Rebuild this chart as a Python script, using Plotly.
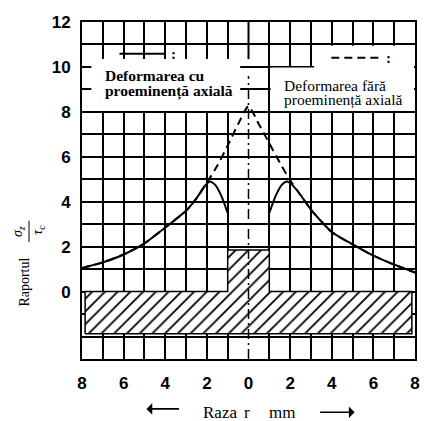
import plotly.graph_objects as go

# ---- data ----
x_tick_vals = [-8, -6, -4, -2, 0, 2, 4, 6, 8]
x_tick_text = ["8", "6", "4", "2", "0", "2", "4", "6", "8"]
y_tick_vals = [0, 2, 4, 6, 8, 10, 12]
y_tick_text = ["0", "2", "4", "6", "8", "10", "12"]

# deformation with axial protuberance (solid)
solid_x = [-8, -7, -6, -5, -4, -3, -2.5, -2.1, -1.85, -1.6, -1.3, -1.0,
           None,
           1.0, 1.3, 1.6, 1.85, 2.1, 2.5, 3, 4, 5, 6, 7, 8]
solid_y = [1.05, 1.3, 1.65, 2.15, 2.85, 3.6, 4.15, 4.7, 4.9, 4.75, 4.25, 3.5,
           None,
           3.5, 4.25, 4.75, 4.9, 4.75, 4.3, 3.65, 2.65, 2.1, 1.6, 1.2, 0.85]

# deformation without axial protuberance (dashed)
dashed_x = [-8, -7, -6, -5, -4, -3, -2.5, -2.0, -1.5, -1.0, -0.5, 0,
            0.5, 1.0, 1.5, 2.0, 2.5, 3, 4, 5, 6, 7, 8]
dashed_y = [1.05, 1.3, 1.65, 2.15, 2.85, 3.6, 4.15, 4.85, 5.6, 6.5, 7.45, 8.25,
            7.45, 6.6, 5.75, 4.95, 4.3, 3.65, 2.65, 2.1, 1.6, 1.2, 0.85]

# specimen profile (hatched)
profile_x = [-7.85, 7.85, 7.85, 1.0, 1.0, -1.0, -1.0, -7.85, -7.85]
profile_y = [-1.88, -1.88, 0, 0, 1.85, 1.85, 0, 0, -1.88]

grid_x = [v for v in range(-8, 9) if v != 0]

fig = go.Figure()

fig.add_trace(go.Scatter(
    x=profile_x, y=profile_y, mode="lines", fill="toself",
    line=dict(color="black", width=1.5),
    fillpattern=dict(shape="/", fgcolor="black", bgcolor="white",
                     size=9, solidity=0.2, fillmode="replace"),
    hoverinfo="skip", showlegend=False))

fig.add_trace(go.Scatter(
    x=solid_x, y=solid_y, mode="lines", connectgaps=False,
    line=dict(color="black", width=2, shape="spline", smoothing=0.6),
    showlegend=False))

fig.add_trace(go.Scatter(
    x=dashed_x, y=dashed_y, mode="lines",
    line=dict(color="black", width=2, dash="8px,5px", shape="spline", smoothing=0.6),
    showlegend=False))

shapes = [
    # white label boxes covering the grid
    dict(type="rect", xref="x", yref="y", x0=-7.55, x1=-0.4, y0=8.04, y1=10.35,
         fillcolor="white", line=dict(width=0), layer="above"),
    dict(type="rect", xref="x", yref="y", x0=1.06, x1=7.95, y0=8.04, y1=9.97,
         fillcolor="white", line=dict(width=0), layer="above"),
    dict(type="rect", xref="x", yref="y", x0=3.15, x1=7.95, y0=9.9, y1=10.94,
         fillcolor="white", line=dict(width=0), layer="above"),
    # centre line (dash-dot)
    dict(type="line", xref="x", yref="y", x0=0, x1=0, y0=-3, y1=9.6,
         line=dict(color="black", width=1.5, dash="10px,4px,2px,4px"), layer="above"),
    dict(type="line", xref="x", yref="y", x0=0, x1=0, y0=10.35, y1=12,
         line=dict(color="black", width=2), layer="above"),
    # legend samples
    dict(type="line", xref="x", yref="y", x0=-6.2, x1=-3.98, y0=10.59, y1=10.59,
         line=dict(color="black", width=2), layer="above"),
    dict(type="line", xref="x", yref="y", x0=3.98, x1=6.44, y0=10.41, y1=10.41,
         line=dict(color="black", width=2, dash="8px,5px"), layer="above"),
    # fraction bar of the y title
    dict(type="line", xref="paper", yref="y", xsizemode="pixel", xanchor=0,
         x0=-53, x1=-53, y0=2.2, y1=3.15, line=dict(color="black", width=1)),
]

serif = "Liberation Serif, Times New Roman, serif"
ann = [
    dict(text="<b>:</b>", x=-3.6, y=10.58, font=dict(size=15, family=serif)),
    dict(text="<b>:</b>", x=6.72, y=10.4, font=dict(size=15, family=serif)),
    dict(text="<b>Deformarea cu</b>", x=-7.0, y=9.61, xanchor="left",
         font=dict(size=15.5, family=serif)),
    dict(text="<b>proeminență axială</b>", x=-7.0, y=8.95, xanchor="left",
         font=dict(size=15.5, family=serif)),
    dict(text="Deformarea fără", x=1.61, y=9.17, xanchor="left",
         font=dict(size=15.5, family=serif)),
    dict(text="proeminență axială", x=1.61, y=8.54, xanchor="left",
         font=dict(size=15.5, family=serif)),
]
annotations = []
for a in ann:
    d = dict(xref="x", yref="y", showarrow=False, yanchor="middle",
             xanchor=a.pop("xanchor", "center"))
    d.update(a)
    d["font"]["color"] = "black"
    annotations.append(d)

# bottom title "Raza r mm" with arrows (paper y below plot)
yb = -0.158
for txt, xv in [("Raza", -1.37), ("r", -0.05), ("mm", 1.6)]:
    annotations.append(dict(xref="x", yref="paper", x=xv, y=yb, text=txt,
                            showarrow=False, xanchor="center", yanchor="middle",
                            font=dict(size=17, family=serif, color="black")))
annotations += [
    dict(xref="x", yref="paper", x=-4.9, y=yb + 0.01, ax=34, ay=0, text="",
         showarrow=True, arrowhead=1, arrowsize=1.2, arrowwidth=1.6, arrowcolor="black"),
    dict(xref="x", yref="paper", x=5.1, y=yb, ax=-36, ay=0, text="",
         showarrow=True, arrowhead=1, arrowsize=1.2, arrowwidth=1.6, arrowcolor="black"),
]

# y axis title: Raportul sigma_z / tau_c (rotated)
annotations += [
    dict(xref="paper", yref="y", x=0, xshift=-57, y=0.4, text="Raportul",
         xanchor="center", yanchor="middle",
         textangle=-90, showarrow=False, font=dict(size=14, family=serif, color="black")),
    dict(xref="paper", yref="y", x=0, xshift=-64, y=2.65, text="<i>σ<sub>z</sub></i>",
         xanchor="center", yanchor="middle",
         textangle=-90, showarrow=False, font=dict(size=14, family=serif, color="black")),
    dict(xref="paper", yref="y", x=0, xshift=-43, y=2.75, text="<i>τ<sub>c</sub></i>",
         xanchor="center", yanchor="middle",
         textangle=-90, showarrow=False, font=dict(size=14, family=serif, color="black")),
]

tickfont = dict(family="Liberation Sans, Arial, sans-serif", size=17, color="black", weight="bold")

fig.update_layout(
    width=424, height=421,
    margin=dict(l=82, r=4, t=22, b=62),
    paper_bgcolor="white", plot_bgcolor="white",
    shapes=shapes, annotations=annotations,
    xaxis=dict(range=[-8, 8], tickmode="array", tickvals=x_tick_vals, ticktext=x_tick_text,
               showgrid=False, zeroline=False, showline=True, mirror=True,
               linecolor="black", linewidth=2, ticks="", tickfont=tickfont,
               ticklabelstandoff=8,
               minor=dict(tickmode="array", tickvals=grid_x, showgrid=True,
                          gridcolor="black", gridwidth=2, ticks="")),
    yaxis=dict(range=[-3, 12], tickmode="array", tickvals=y_tick_vals, ticktext=y_tick_text,
               showgrid=True, gridcolor="black", gridwidth=2, zeroline=False,
               showline=True, mirror=True, linecolor="black", linewidth=2,
               ticks="", tickfont=tickfont, ticklabelstandoff=6,
               minor=dict(dtick=1, tick0=0, showgrid=True, gridcolor="black",
                          gridwidth=2, ticks="")),
)

fig.write_html("out.html", config={"displayModeBar": False},
               post_script="document.body.style.margin='0';document.body.style.overflow='hidden';")
